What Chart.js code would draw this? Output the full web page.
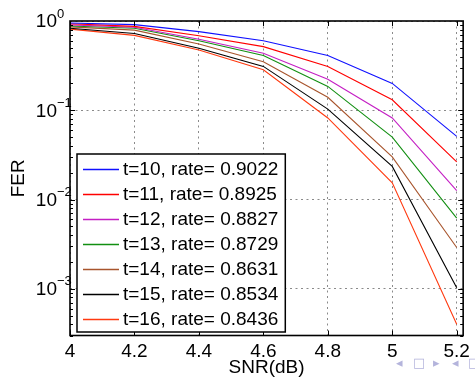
<!DOCTYPE html>
<html>
<head>
<meta charset="utf-8">
<script src="https://cdn.jsdelivr.net/npm/chart.js@4.4.1/dist/chart.umd.min.js"></script>
<style>
  html, body { margin: 0; padding: 0; background: #fff; }
  #wrap { position: relative; width: 475px; height: 379px; overflow: hidden; }
  .nav { position: absolute; color: #b4b4dc; font: 13px "DejaVu Sans", sans-serif; line-height: 13px; }
</style>
</head>
<body>
<div id="wrap">
  <canvas id="ferChart" width="475" height="379"></canvas>
  <span class="nav" style="left:396px;top:356px">◂</span>
  <span class="nav" style="left:413px;top:356px">□</span>
  <span class="nav" style="left:433px;top:356px">▸</span>
  <span class="nav" style="left:452px;top:356px">◂</span>
  <span class="nav" style="left:468px;top:356px">□</span>
</div>
<script>
// x values (SNR in dB) and tick labels
const snr = [4, 4.2, 4.4, 4.6, 4.8, 5.0, 5.2];
const snrTickLabels = ['4', '4.2', '4.4', '4.6', '4.8', '5', '5.2'];

// FER per code
const ferT10 = [0.95, 0.91, 0.76, 0.60, 0.41, 0.20, 0.051];
const ferT11 = [0.93, 0.87, 0.685, 0.516, 0.31, 0.131, 0.0264];
const ferT12 = [0.905, 0.85, 0.625, 0.436, 0.223, 0.082, 0.0126];
const ferT13 = [0.88, 0.83, 0.60, 0.41, 0.185, 0.050, 0.0062];
const ferT14 = [0.86, 0.79, 0.553, 0.35, 0.14, 0.030, 0.0029];
const ferT15 = [0.83, 0.725, 0.495, 0.31, 0.103, 0.0235, 0.00103];
const ferT16 = [0.81, 0.69, 0.474, 0.284, 0.082, 0.0154, 0.0004];

const seriesLabels = [
    't=10, rate= 0.9022', 't=11, rate= 0.8925', 't=12, rate= 0.8827',
    't=13, rate= 0.8729', 't=14, rate= 0.8631', 't=15, rate= 0.8534',
    't=16, rate= 0.8436'
];
const seriesColors = ['#1010ff', '#ff0000', '#c41fc4', '#128f12', '#a8552d', '#000000', '#ff3a10'];

// y axis: decades and their exponents
const ferDecades = [1, 0.1, 0.01, 0.001];
const ferExponents = ['0', '\u22121', '\u22122', '\u22123'];
const ferMinorDecades = [0.0001, 0.001, 0.01, 0.1];

const FONT = '"Liberation Sans", Arial, Helvetica, sans-serif';

const matlabAxes = {
    id: 'matlabAxes',
    afterDatasetsDraw(chart) {
        const ctx = chart.ctx;
        const area = chart.chartArea;
        const xs = chart.scales.x;
        const ys = chart.scales.y;
        ctx.save();

        // inward ticks
        ctx.strokeStyle = '#000';
        ctx.lineWidth = 1;
        ctx.beginPath();
        snr.forEach(v => {
            const px = Math.round(xs.getPixelForValue(v)) + 0.5;
            ctx.moveTo(px, area.bottom); ctx.lineTo(px, area.bottom - 5);
            ctx.moveTo(px, area.top); ctx.lineTo(px, area.top + 5);
        });
        ferMinorDecades.forEach(d => {
            for (let k = 1; k <= 9; k++) {
                const v = d * k;
                if (v < ys.min || v > ys.max) continue;
                const len = k === 1 ? 5 : 3;
                const py = Math.round(ys.getPixelForValue(v)) + 0.5;
                ctx.moveTo(area.left, py); ctx.lineTo(area.left + len, py);
                ctx.moveTo(area.right, py); ctx.lineTo(area.right - len, py);
            }
        });
        ctx.stroke();

        // box
        ctx.lineWidth = 1.6;
        ctx.strokeRect(area.left, area.top, area.right - area.left, area.bottom - area.top);

        // y tick labels 10^n
        ctx.fillStyle = '#000';
        ferDecades.forEach((d, i) => {
            const py = ys.getPixelForValue(d);
            ctx.font = '19px ' + FONT;
            ctx.textAlign = 'right';
            ctx.textBaseline = 'middle';
            ctx.fillText('10', area.left - 13, py + 1);
            ctx.font = '13px ' + FONT;
            ctx.textAlign = 'left';
            ctx.fillText(ferExponents[i], area.left - 13, py - 7);
        });

        // legend
        const lx = area.left + 7, ly = 154;
        const rowH = 25;
        ctx.font = '19px ' + FONT;
        let maxW = 0;
        chart.data.datasets.forEach(ds => { maxW = Math.max(maxW, ctx.measureText(ds.label).width); });
        const boxW = 6 + 36 + 4 + maxW + 7;
        const boxH = 15 + rowH * (chart.data.datasets.length - 1) + 13;
        ctx.fillStyle = '#fff';
        ctx.fillRect(lx, ly, boxW, boxH);
        ctx.lineWidth = 1.5;
        ctx.strokeStyle = '#000';
        ctx.strokeRect(lx, ly, boxW, boxH);
        chart.data.datasets.forEach((ds, i) => {
            const cy = ly + 15 + i * rowH;
            ctx.strokeStyle = ds.borderColor;
            ctx.lineWidth = 1.3;
            ctx.beginPath();
            ctx.moveTo(lx + 6, cy + 0.5);
            ctx.lineTo(lx + 42, cy + 0.5);
            ctx.stroke();
            ctx.fillStyle = '#000';
            ctx.textAlign = 'left';
            ctx.textBaseline = 'middle';
            ctx.fillText(ds.label, lx + 46, cy + 1);
        });
        ctx.restore();
    }
};

const allSeries = [ferT10, ferT11, ferT12, ferT13, ferT14, ferT15, ferT16];

new Chart(document.getElementById('ferChart'), {
    type: 'line',
    data: {
        datasets: allSeries.map((vals, i) => ({
            label: seriesLabels[i],
            data: snr.map((x, j) => ({ x: x, y: vals[j] })),
            borderColor: seriesColors[i],
            backgroundColor: seriesColors[i],
            borderWidth: 1.1,
            pointRadius: 0,
            fill: false,
            tension: 0
        }))
    },
    options: {
        responsive: false,
        animation: false,
        devicePixelRatio: 1,
        layout: { autoPadding: false, padding: { top: 21, right: 5, left: 0, bottom: 0 } },
        plugins: { legend: { display: false }, tooltip: { enabled: false } },
        scales: {
            x: {
                type: 'linear',
                min: 4,
                max: 5.22,
                afterBuildTicks: scale => { scale.ticks = snr.map(v => ({ value: v })); },
                afterFit: scale => { scale.height = 43.5; },
                ticks: {
                    color: '#000',
                    font: { family: FONT, size: 19 },
                    padding: 5,
                    maxRotation: 0,
                    autoSkip: false,
                    callback: (value, index) => snrTickLabels[index]
                },
                grid: { color: '#8a8a8a', lineWidth: 1, drawTicks: false },
                border: { display: false, dash: [2, 3.5] },
                title: {
                    display: true, text: 'SNR(dB)', color: '#000',
                    font: { family: FONT, size: 19 }, padding: { top: 0, bottom: 0 }
                }
            },
            y: {
                type: 'logarithmic',
                min: 0.0003,
                max: 1,
                afterBuildTicks: scale => { scale.ticks = ferDecades.map(v => ({ value: v })); },
                afterFit: scale => { scale.width = 70; },
                ticks: { display: false },
                grid: { color: '#8a8a8a', lineWidth: 1, drawTicks: false },
                border: { display: false, dash: [2, 3.5] },
                title: {
                    display: true, text: 'FER', color: '#000',
                    font: { family: FONT, size: 19 }, padding: { top: 7, bottom: 0 }
                }
            }
        }
    },
    plugins: [matlabAxes]
});
</script>
</body>
</html>
